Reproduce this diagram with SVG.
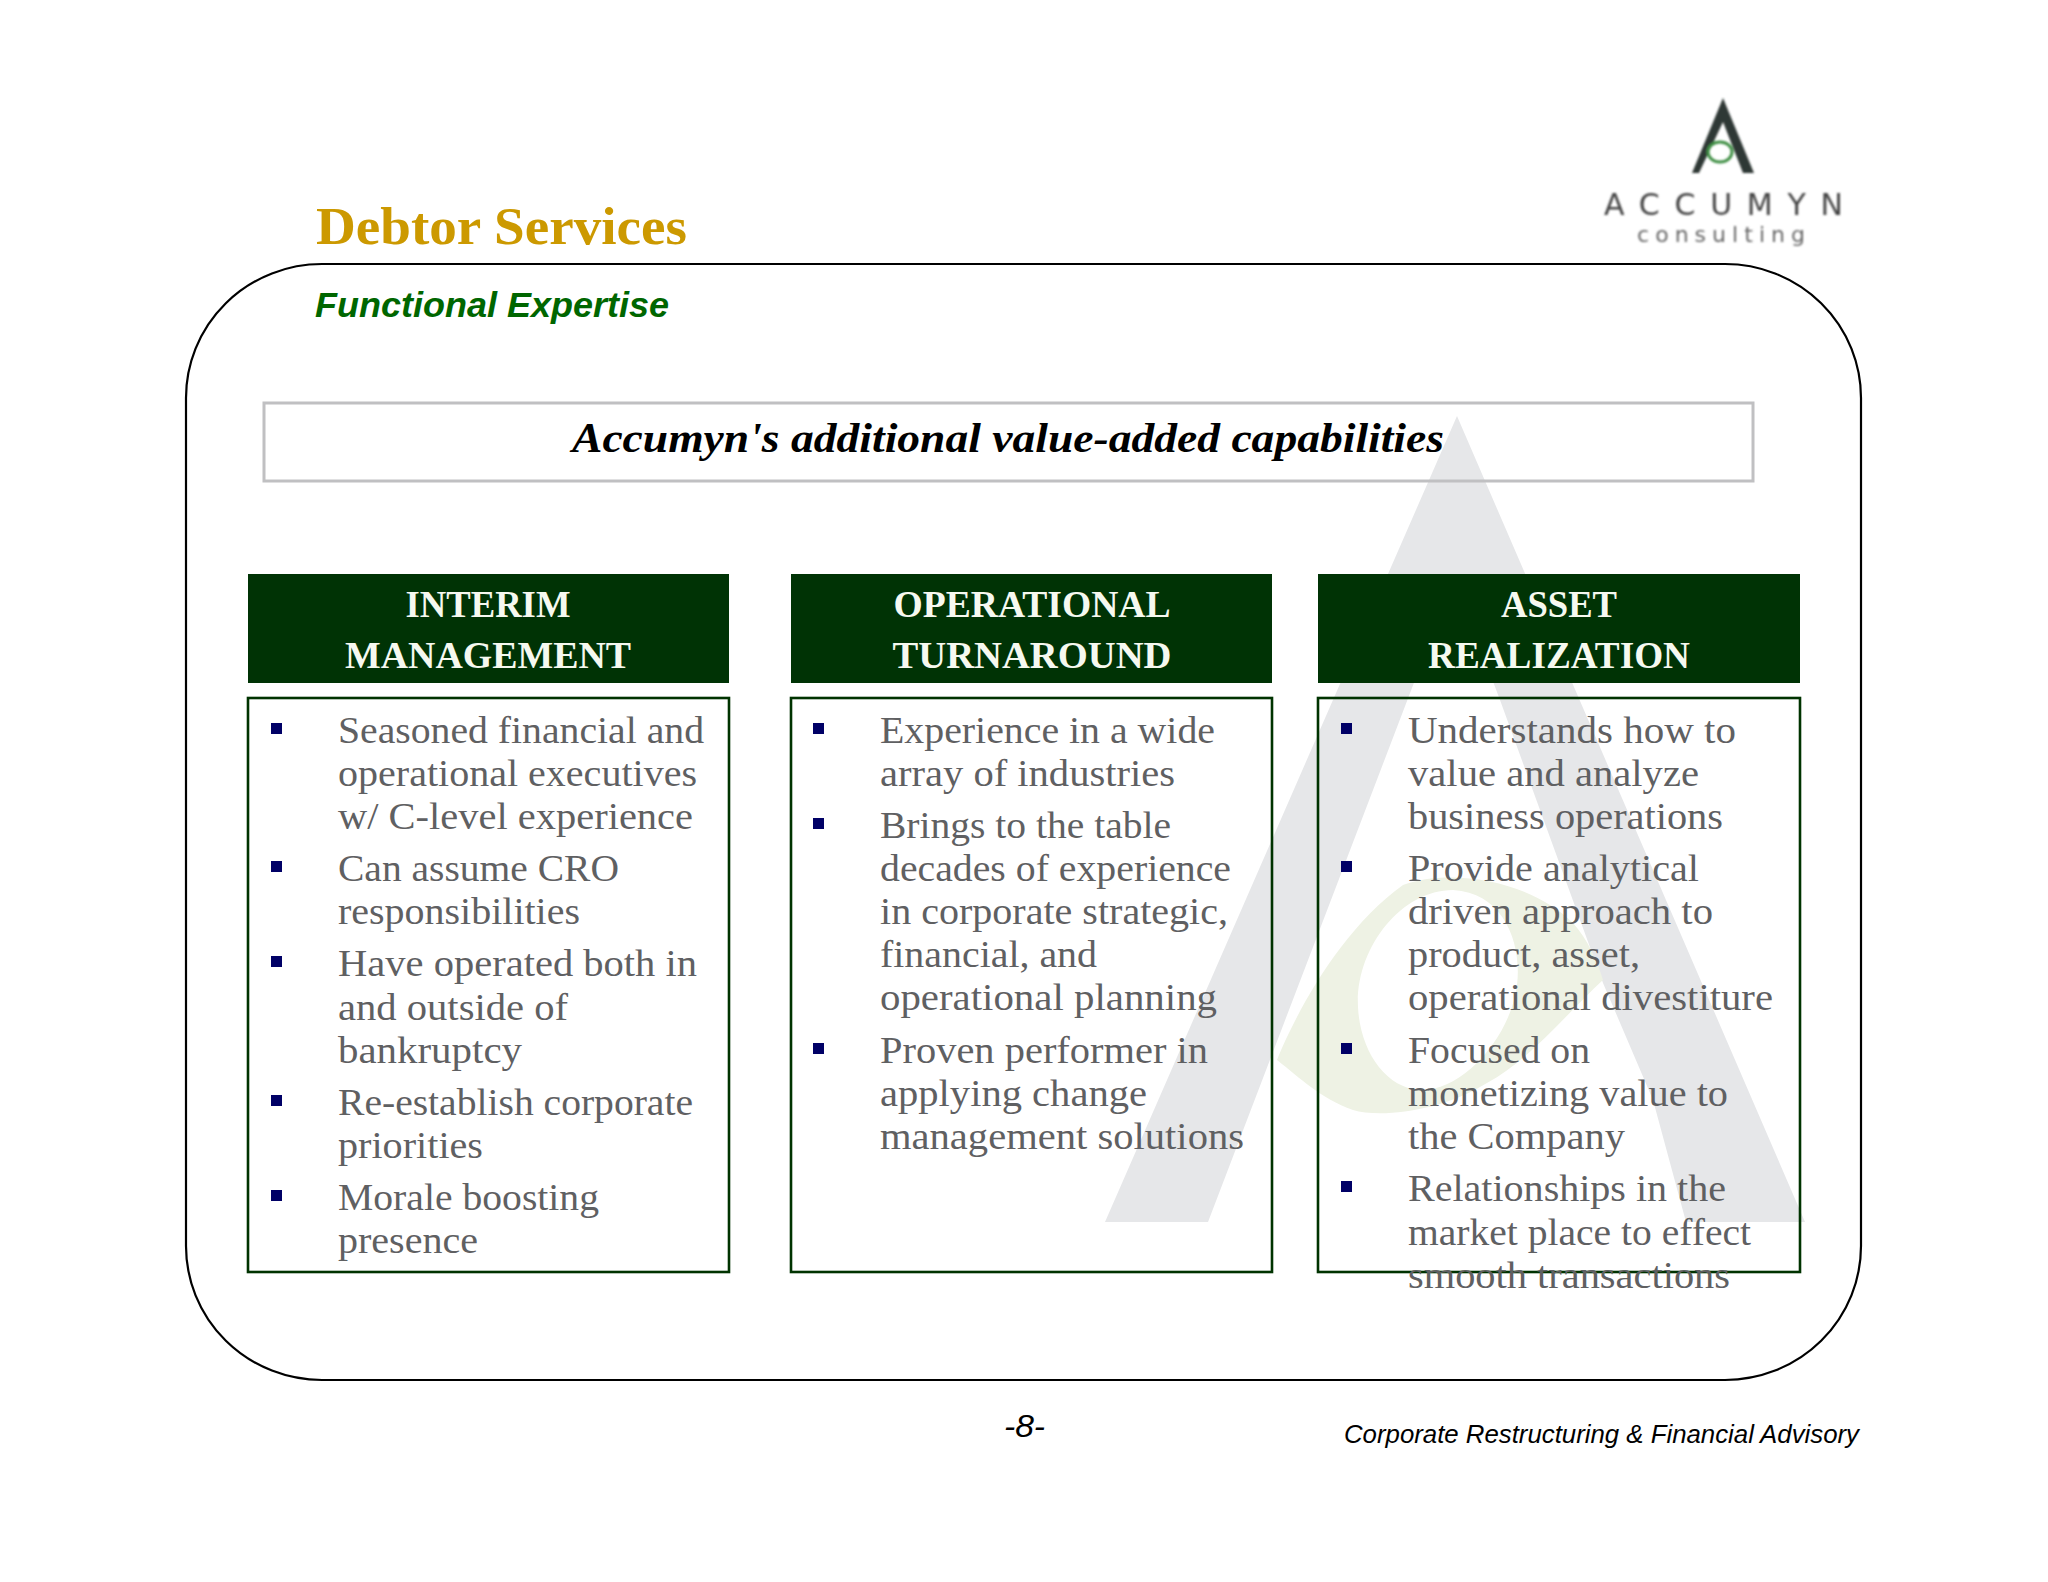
<svg xmlns="http://www.w3.org/2000/svg" width="2048" height="1582" viewBox="0 0 2048 1582">
<style>
.b{font:38px "Liberation Serif",serif;fill:#5f6062;transform:translateY(1px)}
.h{font:bold 38px "Liberation Serif",serif;fill:#f6f9f0;text-anchor:middle}
.box{fill:none;stroke:#003300;stroke-width:2.6}
.hd{fill:#003305}
.m{fill:#000066}
</style>
<defs><filter id="soft" x="-5%" y="-5%" width="110%" height="110%"><feGaussianBlur stdDeviation="0.8"/></filter></defs>
<rect width="2048" height="1582" fill="#fff"/>
<g id="watermark">
<path d="M1457 416L1805 1222H1686L1653 1100L1603 983L1500 700L1454 578L1208 1222H1105Z" fill="#e6e7e9"/>
<path fill-rule="evenodd" d="M1277 1060C1295 1015 1340 930 1403 885C1450 868 1530 880 1573 923C1588 940 1597 960 1603 980C1570 1010 1530 1060 1487 1083C1440 1112 1380 1118 1353 1110C1320 1098 1300 1078 1277 1060ZM1358 1007C1355 950 1400 890 1453 890C1505 893 1522 945 1517 985C1510 1040 1460 1092 1420 1090C1385 1088 1360 1050 1358 1007Z" fill="#eef2e4"/>
</g>
<g id="frame"><rect x="186" y="264" width="1675" height="1116" rx="136" ry="134" fill="none" stroke="#000" stroke-width="2.2"/></g>
<g id="logo" filter="url(#soft)">
<path d="M1723 98L1754 173H1743L1723 122L1699 173H1692Z" fill="#2f3835"/>
<ellipse cx="1720" cy="152" rx="12" ry="10" fill="none" stroke="#3f8f45" stroke-width="3"/>
<text x="1604" y="215" textLength="239" style="font:30px 'DejaVu Sans',sans-serif;fill:#444">ACCUMYN</text>
<text x="1637" y="242" textLength="168" style="font:22px 'DejaVu Sans',sans-serif;fill:#666">consulting</text>
</g>
<g id="title">
<text x="316" y="244" textLength="371" lengthAdjust="spacingAndGlyphs" style="font:bold 53px 'Liberation Serif',serif;fill:#cc9900">Debtor Services</text>
<text x="315" y="317" textLength="354" lengthAdjust="spacingAndGlyphs" style="font:italic bold 35px 'Liberation Sans',sans-serif;fill:#006600">Functional Expertise</text>
</g>
<g id="banner">
<rect x="264" y="403" width="1489" height="78" fill="none" stroke="#c0c0c2" stroke-width="3"/>
<text x="572" y="452" textLength="872" lengthAdjust="spacingAndGlyphs" style="font:italic bold 42px 'Liberation Serif',serif;fill:#000">Accumyn's additional value-added capabilities</text>
</g>
<g id="col-interim">
<rect class="hd" x="248" y="574" width="481" height="109"/>
<text class="h" x="488" y="617" textLength="165" lengthAdjust="spacingAndGlyphs">INTERIM</text>
<text class="h" x="488" y="668" textLength="286" lengthAdjust="spacingAndGlyphs">MANAGEMENT</text>
<rect class="box" x="248" y="698" width="481" height="574"/>
<rect class="m" x="271" y="723" width="11" height="11"/><rect class="m" x="271" y="861" width="11" height="11"/><rect class="m" x="271" y="956" width="11" height="11"/><rect class="m" x="271" y="1095" width="11" height="11"/><rect class="m" x="271" y="1190" width="11" height="11"/>
<text class="b" x="338" y="742" textLength="366" lengthAdjust="spacingAndGlyphs">Seasoned financial and</text>
<text class="b" x="338" y="785" textLength="359" lengthAdjust="spacingAndGlyphs">operational executives</text>
<text class="b" x="338" y="828" textLength="355" lengthAdjust="spacingAndGlyphs">w/ C-level experience</text>
<text class="b" x="338" y="880" textLength="281" lengthAdjust="spacingAndGlyphs">Can assume CRO</text>
<text class="b" x="338" y="923" textLength="242" lengthAdjust="spacingAndGlyphs">responsibilities</text>
<text class="b" x="338" y="975" textLength="359" lengthAdjust="spacingAndGlyphs">Have operated both in</text>
<text class="b" x="338" y="1019" textLength="230" lengthAdjust="spacingAndGlyphs">and outside of</text>
<text class="b" x="338" y="1062" textLength="184" lengthAdjust="spacingAndGlyphs">bankruptcy</text>
<text class="b" x="338" y="1114" textLength="355" lengthAdjust="spacingAndGlyphs">Re-establish corporate</text>
<text class="b" x="338" y="1157" textLength="145" lengthAdjust="spacingAndGlyphs">priorities</text>
<text class="b" x="338" y="1209" textLength="261" lengthAdjust="spacingAndGlyphs">Morale boosting</text>
<text class="b" x="338" y="1252" textLength="140" lengthAdjust="spacingAndGlyphs">presence</text>
</g>
<g id="col-operational">
<rect class="hd" x="791" y="574" width="481" height="109"/>
<text class="h" x="1032" y="617" textLength="277" lengthAdjust="spacingAndGlyphs">OPERATIONAL</text>
<text class="h" x="1032" y="668" textLength="279" lengthAdjust="spacingAndGlyphs">TURNAROUND</text>
<rect class="box" x="791" y="698" width="481" height="574"/>
<rect class="m" x="813" y="723" width="11" height="11"/><rect class="m" x="813" y="818" width="11" height="11"/><rect class="m" x="813" y="1043" width="11" height="11"/>
<text class="b" x="880" y="742" textLength="335" lengthAdjust="spacingAndGlyphs">Experience in a wide</text>
<text class="b" x="880" y="785" textLength="295" lengthAdjust="spacingAndGlyphs">array of industries</text>
<text class="b" x="880" y="837" textLength="291" lengthAdjust="spacingAndGlyphs">Brings to the table</text>
<text class="b" x="880" y="880" textLength="351" lengthAdjust="spacingAndGlyphs">decades of experience</text>
<text class="b" x="880" y="923" textLength="348" lengthAdjust="spacingAndGlyphs">in corporate strategic,</text>
<text class="b" x="880" y="966" textLength="217" lengthAdjust="spacingAndGlyphs">financial, and</text>
<text class="b" x="880" y="1009" textLength="337" lengthAdjust="spacingAndGlyphs">operational planning</text>
<text class="b" x="880" y="1062" textLength="328" lengthAdjust="spacingAndGlyphs">Proven performer in</text>
<text class="b" x="880" y="1105" textLength="267" lengthAdjust="spacingAndGlyphs">applying change</text>
<text class="b" x="880" y="1148" textLength="364" lengthAdjust="spacingAndGlyphs">management solutions</text>
</g>
<g id="col-asset">
<rect class="hd" x="1318" y="574" width="482" height="109"/>
<text class="h" x="1559" y="617" textLength="116" lengthAdjust="spacingAndGlyphs">ASSET</text>
<text class="h" x="1559" y="668" textLength="262" lengthAdjust="spacingAndGlyphs">REALIZATION</text>
<rect class="box" x="1318" y="698" width="482" height="574"/>
<rect class="m" x="1341" y="723" width="11" height="11"/><rect class="m" x="1341" y="861" width="11" height="11"/><rect class="m" x="1341" y="1043" width="11" height="11"/><rect class="m" x="1341" y="1181" width="11" height="11"/>
<text class="b" x="1408" y="742" textLength="328" lengthAdjust="spacingAndGlyphs">Understands how to</text>
<text class="b" x="1408" y="785" textLength="291" lengthAdjust="spacingAndGlyphs">value and analyze</text>
<text class="b" x="1408" y="828" textLength="315" lengthAdjust="spacingAndGlyphs">business operations</text>
<text class="b" x="1408" y="880" textLength="291" lengthAdjust="spacingAndGlyphs">Provide analytical</text>
<text class="b" x="1408" y="923" textLength="305" lengthAdjust="spacingAndGlyphs">driven approach to</text>
<text class="b" x="1408" y="966" textLength="232" lengthAdjust="spacingAndGlyphs">product, asset,</text>
<text class="b" x="1408" y="1009" textLength="365" lengthAdjust="spacingAndGlyphs">operational divestiture</text>
<text class="b" x="1408" y="1062" textLength="182" lengthAdjust="spacingAndGlyphs">Focused on</text>
<text class="b" x="1408" y="1105" textLength="320" lengthAdjust="spacingAndGlyphs">monetizing value to</text>
<text class="b" x="1408" y="1148" textLength="217" lengthAdjust="spacingAndGlyphs">the Company</text>
<text class="b" x="1408" y="1200" textLength="318" lengthAdjust="spacingAndGlyphs">Relationships in the</text>
<text class="b" x="1408" y="1244" textLength="343" lengthAdjust="spacingAndGlyphs">market place to effect</text>
<text class="b" x="1408" y="1287" textLength="322" lengthAdjust="spacingAndGlyphs">smooth transactions</text>
</g>
<g id="footer">
<text x="1004" y="1437" textLength="41" lengthAdjust="spacingAndGlyphs" style="font:italic 32px 'Liberation Sans',sans-serif;fill:#000">-8-</text>
<text x="1344" y="1443" textLength="515" lengthAdjust="spacingAndGlyphs" style="font:italic 26px 'Liberation Sans',sans-serif;fill:#000">Corporate Restructuring &amp; Financial Advisory</text>
</g>
</svg>
